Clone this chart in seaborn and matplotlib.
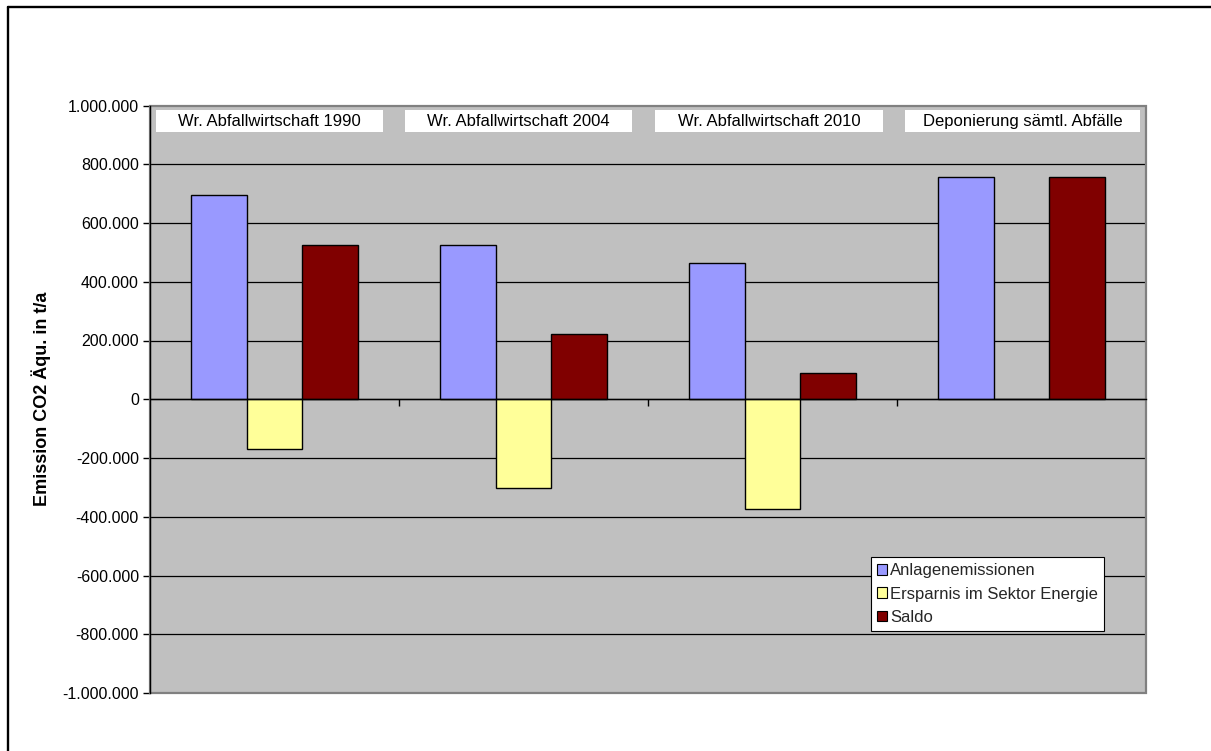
import matplotlib
matplotlib.use("Agg")
import matplotlib.pyplot as plt
from matplotlib.patches import Rectangle
from matplotlib.lines import Line2D
from matplotlib.ticker import FuncFormatter, FixedLocator
import pandas as pd
import seaborn as sns

# Scenarios (groups along the x axis)
categories = [
    "Wr. Abfallwirtschaft 1990",
    "Wr. Abfallwirtschaft 2004",
    "Wr. Abfallwirtschaft 2010",
    "Deponierung sämtl. Abfälle",
]
series_names = ["Anlagenemissionen", "Ersparnis im Sektor Energie", "Saldo"]

# Emissions in t CO2-equivalent per year
anlagenemissionen = [695000, 525000, 463000, 757000]
ersparnis_energie = [-170000, -303000, -375000, 0]
saldo = [525000, 222000, 88000, 757000]

y_ticks = [-1000000, -800000, -600000, -400000, -200000, 0,
           200000, 400000, 600000, 800000, 1000000]

colors = ["#9999FF", "#FFFF99", "#800000"]

rows = []
for name, values in zip(series_names, [anlagenemissionen, ersparnis_energie, saldo]):
    for cat, v in zip(categories, values):
        rows.append({"Szenario": cat, "Reihe": name, "Wert": v})
df = pd.DataFrame(rows)

sns.set_theme(style="white")
plt.rcParams["font.family"] = ["Liberation Sans", "DejaVu Sans"]

fig = plt.figure(figsize=(12.11, 7.51), dpi=100)
ax = fig.add_axes([150 / 1211, 1 - 693 / 751, 996 / 1211, 587.5 / 751])
ax.set_facecolor("#C0C0C0")

sns.barplot(
    data=df, x="Szenario", y="Wert", hue="Reihe",
    order=categories, hue_order=series_names,
    palette=colors, saturation=1, width=0.67,
    edgecolor="black", linewidth=1.0, errorbar=None, ax=ax, zorder=3,
)

ax.set_xlim(-0.5, len(categories) - 0.5)
ax.set_ylim(-1000000, 1000000)
ax.yaxis.set_major_locator(FixedLocator(y_ticks))
ax.yaxis.set_major_formatter(
    FuncFormatter(lambda v, p: f"{v:,.0f}".replace(",", "."))
)
ax.tick_params(axis="y", which="major", direction="out", length=5, width=1,
               color="black", labelsize=11.5, pad=3, left=True)
ax.tick_params(axis="y", labelcolor="black")

# Horizontal gridlines
for t in y_ticks[1:-1]:
    ax.axhline(t, color="black", linewidth=0.9, zorder=1)

# Category axis crossing at zero, tick marks between groups
ax.spines["bottom"].set_position(("data", 0))
ax.spines["bottom"].set_color("black")
ax.spines["bottom"].set_linewidth(1.0)
ax.spines["bottom"].set_zorder(4)
ax.set_xticks([0.5, 1.5, 2.5])
ax.set_xticklabels([])
ax.tick_params(axis="x", direction="out", length=5, width=1, color="black",
               bottom=True)
ax.set_xlabel("")

ax.spines["left"].set_color("black")
ax.spines["left"].set_linewidth(1.0)
ax.spines["left"].set_zorder(5)
for s in ["top", "right"]:
    ax.spines[s].set_visible(False)

# Plot area border
ax.add_patch(Rectangle((0, 0), 1, 1, transform=ax.transAxes, fill=False,
                       edgecolor="#808080", linewidth=1.6, zorder=2,
                       clip_on=False))

ax.set_ylabel("Emission CO2 Äqu. in t/a", fontsize=13, fontweight="bold",
              color="black")
ax.yaxis.set_label_coords(-0.099, 0.5)

# Scenario caption boxes at the top of the plot area
box_left = [-0.475, -0.476, -0.472, -0.468]
box_right = [0.436, 0.436, 0.444, 0.476]
trans = ax.get_xaxis_transform()
for i, cat in enumerate(categories):
    x0 = i + box_left[i]
    x1 = i + box_right[i]
    ax.add_patch(Rectangle((x0, 0.9549), x1 - x0, 0.0374, transform=trans,
                           facecolor="white", edgecolor="none", zorder=6))
    ax.text((x0 + x1) / 2, 0.9736, cat, transform=trans, ha="center",
            va="center", fontsize=12, color="black", zorder=7)

# Legend
handles, labels = ax.get_legend_handles_labels()
if ax.get_legend() is not None:
    ax.get_legend().remove()
leg = ax.legend(handles, labels, loc="upper left",
                bbox_to_anchor=(0.724, 0.2315), frameon=True, fancybox=False,
                edgecolor="black", facecolor="white", framealpha=1,
                fontsize=12, handlelength=0.6, handleheight=0.6,
                handletextpad=0.15, borderpad=0.38, labelspacing=0.5,
                borderaxespad=0)
leg.get_frame().set_linewidth(0.8)
leg.set_zorder(8)
for h in leg.legend_handles:
    h.set_edgecolor("black")
    h.set_linewidth(0.8)

# Outer chart frame
fx = 8 / 1211
fy = 1 - 7 / 751
fig.add_artist(Line2D([fx, fx], [0, fy], transform=fig.transFigure,
                      color="black", linewidth=1.7))
fig.add_artist(Line2D([fx, 1], [fy, fy], transform=fig.transFigure,
                      color="black", linewidth=1.7))

fig.savefig("out.png", dpi=100, facecolor="white")
